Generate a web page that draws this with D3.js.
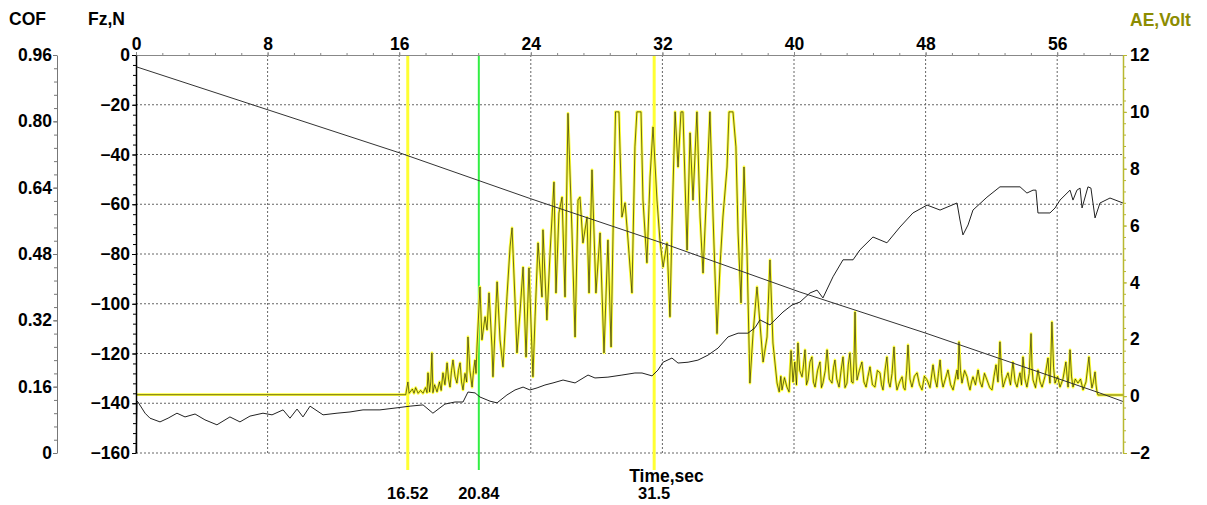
<!DOCTYPE html>
<html>
<head>
<meta charset="utf-8">
<script src="https://cdn.jsdelivr.net/npm/d3@7"></script>
<style>
  body { margin: 0; background: #fff; }
  text { font-family: "Liberation Sans", Arial, sans-serif; font-weight: bold; font-size: 17.5px; fill: #000; }
  .grid line { stroke: #666; stroke-width: 1; stroke-dasharray: 2,2; }
</style>
</head>
<body>
<svg width="1207" height="505"></svg>
<script>
// tick labels
var timeTicks = [0, 8, 16, 24, 32, 40, 48, 56],
    fzTicks = [0, -20, -40, -60, -80, -100, -120, -140, -160],
    cofTicks = [0, 0.16, 0.32, 0.48, 0.64, 0.80, 0.96],
    aeTicks = [12, 10, 8, 6, 4, 2, 0, -2];

// marker times (sec)
var markers = [
  {t: 16.52, label: "16.52", color: "#ffff33"},
  {t: 20.84, label: "20.84", color: "#33ee44"},
  {t: 31.5, label: "31.5", color: "#ffff33"}
];

// normal force Fz, N  [time, value]
var fzData = [[0, -4.7], [16.05, -39.4], [24, -57.8], [32, -75.6], [40.36, -95.3],
  [48, -111.8], [58.6, -135.9], [60, -139.3]];

// coefficient of friction  [time, value]
var cofData = [[0, 0], [0.06, 0.125], [0.12, 0.123], [0.55, 0.096], [0.85, 0.084], [1.46, 0.075],
  [1.95, 0.084], [2.49, 0.096], [2.98, 0.087], [3.59, 0.094], [4.19, 0.080], [4.92, 0.068],
  [5.71, 0.087], [6.32, 0.075], [6.93, 0.089], [7.72, 0.096], [8.27, 0.092], [8.94, 0.104],
  [9.36, 0.084], [9.79, 0.106], [10.15, 0.087], [10.58, 0.113], [11.37, 0.092], [12.22, 0.096],
  [13.01, 0.099], [13.80, 0.104], [14.83, 0.104], [15.87, 0.109], [16.66, 0.113], [17.45, 0.116],
  [18.05, 0.096], [18.78, 0.118], [19.39, 0.123], [19.88, 0.123], [20.18, 0.147], [20.61, 0.145],
  [20.91, 0.135], [21.52, 0.125], [21.95, 0.121], [22.55, 0.140], [23.04, 0.152], [23.53, 0.159],
  [23.95, 0.152], [24.38, 0.157], [24.86, 0.164], [25.35, 0.169], [25.96, 0.176], [26.69, 0.169],
  [27.48, 0.188], [27.90, 0.181], [28.69, 0.183], [29.54, 0.188], [30.33, 0.193], [30.76, 0.193],
  [31.37, 0.186], [31.73, 0.200], [32.04, 0.219], [32.58, 0.229], [32.95, 0.217], [33.56, 0.219],
  [34.16, 0.224], [34.77, 0.236], [35.38, 0.253], [35.99, 0.280], [36.60, 0.289], [37.20, 0.289],
  [37.63, 0.302], [37.93, 0.321], [38.54, 0.309], [39.33, 0.340], [39.88, 0.357], [40.36, 0.364],
  [40.97, 0.386], [41.40, 0.393], [41.76, 0.374], [42.37, 0.425], [42.98, 0.466], [43.59, 0.466],
  [44.01, 0.490], [44.80, 0.521], [45.65, 0.507], [46.44, 0.545], [47.23, 0.579], [48.09, 0.598],
  [48.88, 0.586], [49.91, 0.603], [50.09, 0.562], [50.27, 0.526], [50.58, 0.550], [50.88, 0.586],
  [51.73, 0.617], [52.52, 0.642], [53.74, 0.642], [54.16, 0.627], [54.53, 0.634], [54.71, 0.634],
  [54.83, 0.579], [55.56, 0.579], [55.87, 0.591], [56.17, 0.610], [56.78, 0.634], [56.96, 0.610],
  [57.20, 0.634], [57.39, 0.639], [57.51, 0.591], [57.87, 0.642], [58.05, 0.639], [58.30, 0.567],
  [58.60, 0.603], [59.21, 0.615], [60, 0.603]];

// acoustic emission, Volt  [time, value]
var aeData = [[0, 0.05], [16.4, 0.05], [16.53, 0.5], [16.6, 0.1], [16.8, 0.25], [16.9, 0.1],
  [17.0, 0.3], [17.15, 0.1], [17.3, 0.2], [17.45, 0.1], [17.6, 0.3], [17.69, 0.12], [17.75, 0.82],
  [17.85, 0.15], [17.92, 0.5], [17.99, 1.52], [18.05, 0.12], [18.15, 0.4], [18.3, 0.15], [18.45, 0.5],
  [18.55, 0.2], [18.66, 0.82], [18.78, 0.4], [18.91, 1.17], [19.0, 0.6], [19.09, 0.32], [19.18, 0.9],
  [19.27, 1.27], [19.39, 0.7], [19.51, 0.46], [19.6, 0.9], [19.70, 1.17], [19.79, 0.5], [19.88, 0.22],
  [20.0, 0.8], [20.1, 0.5], [20.18, 2.08], [20.3, 0.9], [20.43, 0.32], [20.52, 0.9], [20.61, 1.27],
  [20.67, 0.8], [20.73, 1.73], [20.91, 3.84],
  [21.03, 1.98], [21.22, 2.79], [21.34, 2.33], [21.46, 3.63], [21.64, 1.73], [21.70, 0.68],
  [21.95, 4.02], [22.13, 1.98], [22.31, 1.03], [22.55, 3.49], [22.74, 5.25], [22.86, 5.92],
  [23.04, 3.38], [23.16, 1.52], [23.34, 2.91], [23.53, 4.54], [23.71, 1.38], [23.89, 4.51],
  [24.13, 0.68], [24.26, 2.79], [24.44, 5.39], [24.68, 3.49], [24.74, 5.85], [24.98, 2.68],
  [25.17, 5.04], [25.41, 7.53], [25.53, 3.63], [25.71, 6.44], [25.90, 7.0], [26.08, 3.49],
  [26.26, 9.95], [26.50, 5.85], [26.69, 2.08], [26.87, 6.9], [26.99, 7.0], [27.17, 5.39],
  [27.42, 6.30], [27.54, 3.63], [27.72, 7.96], [27.96, 3.63], [28.21, 5.74], [28.45, 1.52],
  [28.69, 5.49], [28.88, 1.73], [29.00, 5.74], [29.15, 10], [29.36, 10], [29.54, 6.30],
  [29.73, 6.80], [29.91, 5.49], [30.15, 3.63], [30.33, 8.77], [30.45, 10], [30.70, 10],
  [30.82, 6.9], [31.06, 4.69], [31.25, 7.71], [31.43, 9.47], [31.67, 6.9], [31.85, 5.49],
  [32.04, 4.54], [32.28, 5.39], [32.46, 2.79], [32.58, 5.95], [32.77, 10], [32.95, 8.06],
  [33.13, 10], [33.25, 10], [33.50, 5.14], [33.68, 9.26], [33.86, 6.9], [34.10, 10],
  [34.29, 6.30], [34.47, 4.33], [34.71, 7.50], [34.89, 10], [35.08, 6.30], [35.32, 2.20],
  [35.50, 4.54], [35.68, 6.30], [35.93, 8.06], [36.05, 10], [36.29, 10], [36.47, 8.77],
  [36.60, 5.74], [36.78, 3.28], [36.96, 8.06], [37.14, 5.14], [37.32, 0.46], [37.51, 2.20],
  [37.75, 3.84], [37.93, 2.57], [38.12, 1.20], [38.36, 2.08], [38.54, 4.79], [38.72, 1.87],
  [38.97, 0.46], [39.1, 0.15], [39.2, 0.7], [39.27, 0.22], [39.42, 0.65], [39.57, 0.32], [39.7, 0.15],
  [39.82, 1.6], [39.94, 0.5], [40.05, 1.2], [40.15, 0.4], [40.24, 1.87], [40.35, 0.9], [40.49, 0.68],
  [40.58, 1.1], [40.67, 1.63], [40.76, 0.4], [40.85, 0.57], [40.97, 1.2], [41.09, 1.38], [41.18, 0.5],
  [41.28, 0.32], [41.43, 0.9], [41.58, 1.20], [41.67, 0.3], [41.76, 0.46], [41.9, 0.9], [42.01, 1.63],
  [42.15, 0.6], [42.31, 0.46], [42.4, 1.0], [42.49, 1.27], [42.6, 0.6], [42.74, 0.32], [42.86, 0.9],
  [42.98, 1.38], [43.1, 0.3], [43.22, 0.46], [43.3, 1.1], [43.40, 1.52], [43.5, 0.5], [43.59, 0.46],
  [43.66, 1.5], [43.71, 2.96], [43.77, 1.2], [43.83, 0.57], [43.97, 0.9], [44.13, 1.20], [44.25, 0.5],
  [44.38, 0.32], [44.5, 0.7], [44.62, 1.03], [44.77, 0.4], [44.92, 0.32], [45.07, 0.9], [45.23, 0.82],
  [45.32, 0.4], [45.41, 0.22], [45.53, 0.9], [45.65, 1.38], [45.75, 0.5], [45.84, 0.32], [45.96, 0.8],
  [46.08, 1.73], [46.17, 0.6], [46.26, 0.22], [46.42, 0.5], [46.57, 0.68], [46.66, 0.3], [46.75, 0.22],
  [46.85, 0.9], [46.93, 1.80], [47.05, 0.6], [47.17, 0.32], [47.32, 0.7], [47.48, 0.82], [47.63, 0.4],
  [47.78, 0.22], [47.93, 0.7], [48.09, 0.57], [48.27, 0.3], [48.45, 1.10], [48.57, 0.6], [48.69, 0.32],
  [48.78, 0.8], [48.88, 1.27], [48.97, 0.6], [49.06, 0.32], [49.2, 0.6], [49.36, 0.92], [49.52, 0.4],
  [49.67, 0.22], [49.8, 0.6], [49.91, 0.92], [49.97, 0.6], [50.03, 1.91], [50.12, 0.9], [50.21, 0.46],
  [50.37, 0.9], [50.52, 0.68], [50.61, 0.4], [50.70, 0.22], [50.79, 0.5], [50.88, 0.68], [51.03, 0.4],
  [51.19, 0.92], [51.31, 0.5], [51.43, 0.32], [51.58, 0.8], [51.73, 0.57], [51.9, 0.3], [52.04, 0.22],
  [52.16, 0.7], [52.28, 1.10], [52.4, 0.5], [52.52, 1.91], [52.62, 0.8], [52.71, 0.32], [52.86, 0.6],
  [53.01, 0.82], [53.16, 0.4], [53.31, 1.20], [53.44, 0.5], [53.56, 0.32], [53.65, 0.6], [53.74, 0.82],
  [53.83, 0.4], [53.92, 1.38], [54.04, 0.6], [54.16, 0.32], [54.3, 0.8], [54.41, 2.20], [54.47, 1.0],
  [54.53, 0.57], [54.68, 0.3], [54.83, 0.92], [54.96, 0.5], [55.08, 0.32], [55.26, 0.7], [55.44, 1.34],
  [55.5, 0.8], [55.56, 0.46], [55.62, 1.4], [55.68, 2.61], [55.78, 1.0], [55.87, 0.46], [56.02, 0.7],
  [56.17, 0.32], [56.35, 0.6], [56.53, 1.20], [56.6, 0.7], [56.66, 0.32], [56.72, 0.9], [56.78, 1.63],
  [56.87, 0.7], [56.96, 0.32], [57.1, 0.6], [57.26, 0.46], [57.42, 0.6], [57.57, 0.22], [57.75, 0.5],
  [57.93, 1.38], [58.02, 0.7], [58.11, 0.29], [58.2, 0.5], [58.30, 0.85], [58.36, 0.4], [58.42, 0.15],
  [58.48, 0.04], [60, 0.04]];

var svg = d3.select("svg"),
    margin = {top: 55, right: 84, bottom: 52, left: 136},
    width = +svg.attr("width") - margin.left - margin.right,
    height = +svg.attr("height") - margin.top - margin.bottom;

var x = d3.scaleLinear().domain([0, 60]).range([0, width]),
    yFz = d3.scaleLinear().domain([-160, 0]).range([height, 0]),
    yCof = d3.scaleLinear().domain([0, 0.96]).range([height, 0]),
    yAe = d3.scaleLinear().domain([-2, 12]).range([height, 0]);

var chart = svg.append("g")
    .attr("transform", "translate(" + margin.left + "," + margin.top + ")");

// grid
var grid = chart.append("g").attr("class", "grid");
grid.selectAll(".h")
    .data(fzTicks.filter(function(d) { return d < 0; }))
  .enter().append("line")
    .attr("x1", 0).attr("x2", width)
    .attr("y1", function(d) { return yFz(d); })
    .attr("y2", function(d) { return yFz(d); });
grid.selectAll(".v")
    .data(timeTicks.filter(function(d) { return d > 0; }))
  .enter().append("line")
    .attr("x1", function(d) { return x(d); })
    .attr("x2", function(d) { return x(d); })
    .attr("y1", 0).attr("y2", height);

// vertical markers
chart.selectAll(".marker")
    .data(markers)
  .enter().append("line")
    .attr("class", "marker")
    .attr("x1", function(d) { return x(d.t); })
    .attr("x2", function(d) { return x(d.t); })
    .attr("y1", 0)
    .attr("y2", height + 17)
    .attr("stroke", function(d) { return d.color; })
    .attr("stroke-width", function(d) { return d.t === 20.84 ? 2 : 3; });

chart.selectAll(".mlabel")
    .data(markers)
  .enter().append("text")
    .attr("x", function(d) { return x(d.t); })
    .attr("y", height + 46)
    .attr("text-anchor", "middle")
    .style("font-size", "16.5px")
    .text(function(d) { return d.label; });

chart.append("text")
    .attr("x", x(32.25))
    .attr("y", height + 29)
    .attr("text-anchor", "middle")
    .text("Time,sec");

// AE signal: yellow with a dark core
var aeLine = d3.line()
    .x(function(d) { return x(d[0]); })
    .y(function(d) { return yAe(d[1]); });

chart.append("path")
    .datum(aeData)
    .attr("fill", "none")
    .attr("stroke", "#ffff3a")
    .attr("stroke-width", 2.8)
    .attr("stroke-linejoin", "round")
    .attr("d", aeLine);
chart.append("path")
    .datum(aeData)
    .attr("fill", "none")
    .attr("stroke", "#1a1a00")
    .attr("stroke-width", 0.8)
    .attr("stroke-opacity", 0.8)
    .attr("d", aeLine);

// COF
chart.append("path")
    .datum(cofData)
    .attr("fill", "none")
    .attr("stroke", "#222")
    .attr("stroke-width", 1)
    .attr("d", d3.line()
      .x(function(d) { return x(d[0]); })
      .y(function(d) { return yCof(d[1]); }));

// Fz
chart.append("path")
    .datum(fzData)
    .attr("fill", "none")
    .attr("stroke", "#333")
    .attr("stroke-width", 1)
    .attr("d", d3.line()
      .x(function(d) { return x(d[0]); })
      .y(function(d) { return yFz(d[1]); }));

// top time axis
var topAxis = chart.append("g")
    .call(d3.axisTop(x).tickValues(timeTicks).tickSize(3).tickSizeOuter(0).tickPadding(2));
topAxis.select(".domain").attr("stroke", "#888");
topAxis.selectAll(".tick line").attr("stroke", "#888");
chart.append("g")
    .call(d3.axisTop(x).tickValues(d3.range(0, 60.01, 1.6)).tickSize(2).tickFormat(""))
    .call(function(g) { g.select(".domain").remove(); g.selectAll("line").attr("stroke", "#888"); });

// left Fz axis
var fzAxis = chart.append("g")
    .call(d3.axisLeft(yFz).tickValues(fzTicks).tickSize(4).tickSizeOuter(0).tickPadding(2));
fzAxis.select(".domain").attr("stroke-width", 1.5);
chart.append("g")
    .call(d3.axisLeft(yFz).tickValues(d3.range(-160, 0.01, 4)).tickSize(3).tickFormat(""))
    .call(function(g) { g.select(".domain").remove(); });

// COF axis
var cofAxis = chart.append("g")
    .attr("transform", "translate(" + (57 - margin.left) + ",0)")
    .call(d3.axisLeft(yCof).tickValues(cofTicks).tickSize(4).tickSizeOuter(0).tickPadding(1)
      .tickFormat(function(d) { return d === 0 ? "0" : d.toFixed(2); }));
cofAxis.select(".domain").attr("stroke", "#777");
cofAxis.selectAll(".tick line").attr("stroke", "#777");
chart.append("g")
    .attr("transform", "translate(" + (57 - margin.left) + ",0)")
    .call(d3.axisLeft(yCof).tickValues(d3.range(0, 0.961, 0.032)).tickSize(3).tickFormat(""))
    .call(function(g) { g.select(".domain").remove(); g.selectAll("line").attr("stroke", "#777"); });

// right AE axis
var aeAxis = chart.append("g")
    .attr("transform", "translate(" + width + ",0)")
    .call(d3.axisRight(yAe).tickValues(aeTicks).tickSize(4).tickSizeOuter(0).tickPadding(3));
aeAxis.select(".domain").attr("stroke", "#b8b830").attr("stroke-width", 1.5);
aeAxis.selectAll(".tick line").attr("stroke", "#b8b830");
chart.append("g")
    .attr("transform", "translate(" + width + ",0)")
    .call(d3.axisRight(yAe).tickValues(d3.range(-2, 12.01, 0.4)).tickSize(3).tickFormat(""))
    .call(function(g) { g.select(".domain").remove(); g.selectAll("line").attr("stroke", "#b8b830"); });

// axis titles
svg.append("text").attr("x", 9).attr("y", 25).text("COF");
svg.append("text").attr("x", 88).attr("y", 25).text("Fz,N");
svg.append("text").attr("x", 1130).attr("y", 26).style("fill", "#8c8c00").text("AE,Volt");
</script>
</body>
</html>
